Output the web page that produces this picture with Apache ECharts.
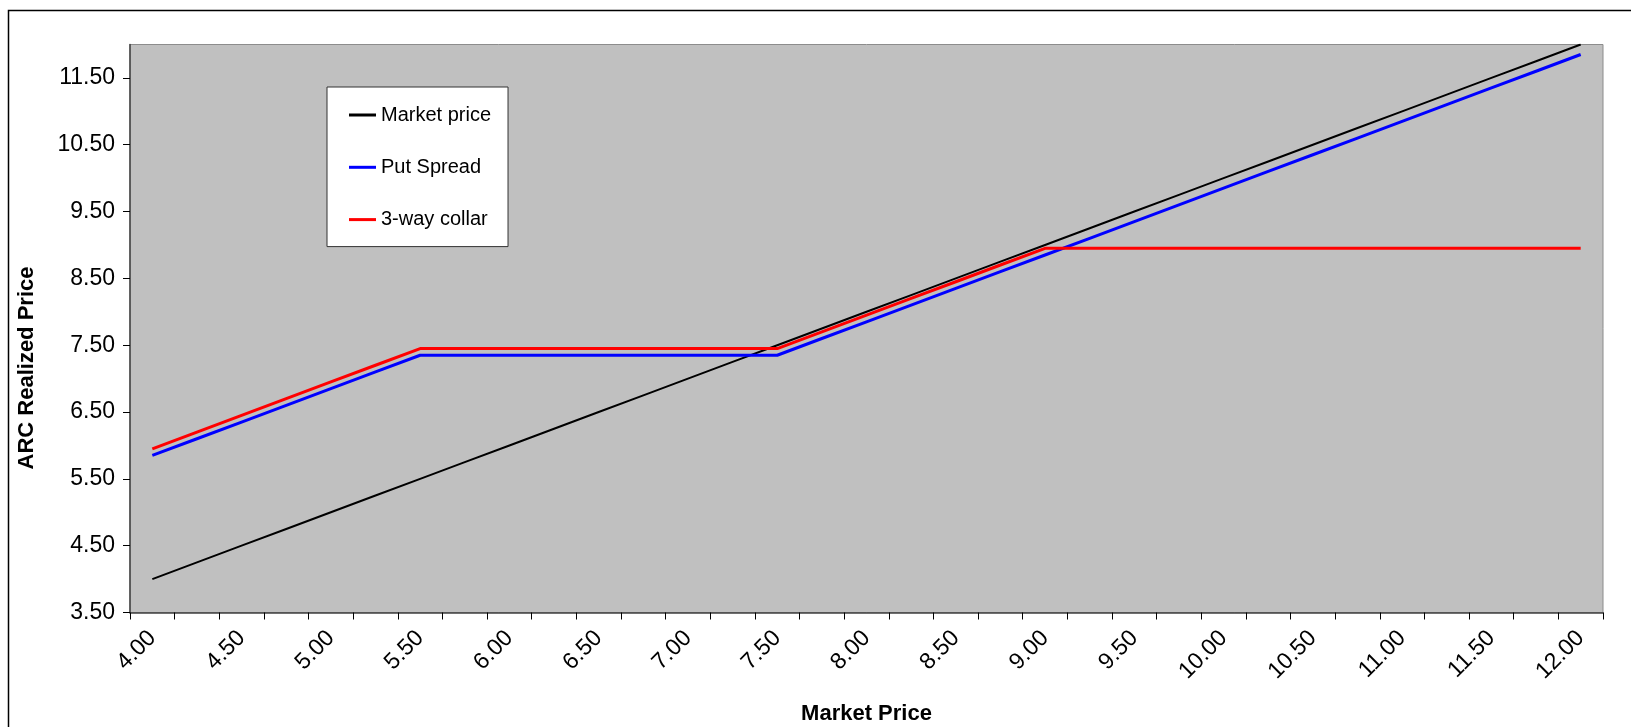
<!DOCTYPE html>
<html>
<head>
<meta charset="utf-8">
<title>ARC Realized Price</title>
<script src="https://cdn.jsdelivr.net/npm/echarts@6/dist/echarts.min.js"></script>
<style>
  html, body { margin: 0; padding: 0; background: #ffffff; }
  #chart { width: 1631px; height: 727px; }
</style>
</head>
<body>
<div id="chart"></div>
<script>
// Market price grid, in 0.25 steps
const categories = [
  '4.00','4.25','4.50','4.75','5.00','5.25','5.50','5.75','6.00','6.25','6.50',
  '6.75','7.00','7.25','7.50','7.75','8.00','8.25','8.50','8.75','9.00','9.25',
  '9.50','9.75','10.00','10.25','10.50','10.75','11.00','11.25','11.50','11.75','12.00'
];

// Unhedged: realized price equals the market price
const marketPrice = [
  4.00, 4.25, 4.50, 4.75, 5.00, 5.25, 5.50, 5.75, 6.00, 6.25, 6.50,
  6.75, 7.00, 7.25, 7.50, 7.75, 8.00, 8.25, 8.50, 8.75, 9.00, 9.25,
  9.50, 9.75, 10.00, 10.25, 10.50, 10.75, 11.00, 11.25, 11.50, 11.75, 12.00
];

// Put spread: floor at 7.35 between 5.50 and 7.50, sub-floor below 5.50
const putSpread = [
  5.85, 6.10, 6.35, 6.60, 6.85, 7.10, 7.35, 7.35, 7.35, 7.35, 7.35,
  7.35, 7.35, 7.35, 7.35, 7.60, 7.85, 8.10, 8.35, 8.60, 8.85, 9.10,
  9.35, 9.60, 9.85, 10.10, 10.35, 10.60, 10.85, 11.10, 11.35, 11.60, 11.85
];

// 3-way collar: floor at 7.45, capped at 8.95 from 9.00 upward
const threeWayCollar = [
  5.95, 6.20, 6.45, 6.70, 6.95, 7.20, 7.45, 7.45, 7.45, 7.45, 7.45,
  7.45, 7.45, 7.45, 7.45, 7.70, 7.95, 8.20, 8.45, 8.70, 8.95, 8.95,
  8.95, 8.95, 8.95, 8.95, 8.95, 8.95, 8.95, 8.95, 8.95, 8.95, 8.95
];

// Value-axis tick labels
const yTicks = [3.5, 4.5, 5.5, 6.5, 7.5, 8.5, 9.5, 10.5, 11.5];

const FONT = "'Liberation Sans', Arial, sans-serif";

const chart = echarts.init(document.getElementById('chart'), null, { renderer: 'canvas' });

chart.setOption({
  animation: false,
  backgroundColor: '#ffffff',
  textStyle: { fontFamily: FONT },
  graphic: [
    {
      // outer chart frame
      type: 'rect',
      silent: true,
      shape: { x: 8.5, y: 10.5, width: 1800, height: 900 },
      style: { fill: 'none', stroke: '#000000', lineWidth: 1.5 }
    },
    {
      // value-axis title
      type: 'text',
      silent: true,
      x: 27,
      y: 368,
      rotation: Math.PI / 2,
      style: {
        text: 'ARC Realized Price',
        fill: '#000000',
        font: "bold 22px 'Liberation Sans', Arial, sans-serif",
        align: 'center',
        verticalAlign: 'middle'
      }
    }
  ],
  grid: {
    left: 130,
    right: 28,
    top: 44.5,
    bottom: 114.5,
    outerBoundsMode: 'none',
    containLabel: false,
    show: true,
    backgroundColor: '#c0c0c0',
    borderColor: '#8c8c8c',
    borderWidth: 1
  },
  legend: {
    orient: 'vertical',
    left: 327,
    top: 87,
    padding: [18, 17, 17, 22],
    itemWidth: 27,
    itemHeight: 3,
    itemGap: 32.3,
    backgroundColor: '#ffffff',
    borderColor: '#333333',
    borderWidth: 1,
    borderRadius: 0,
    selectedMode: false,
    textStyle: { fontFamily: FONT, fontSize: 20, color: '#000000' },
    data: [
      { name: 'Market price', icon: 'rect' },
      { name: 'Put Spread', icon: 'rect' },
      { name: '3-way collar', icon: 'rect' }
    ]
  },
  xAxis: {
    type: 'category',
    data: categories,
    boundaryGap: true,
    name: 'Market Price',
    nameLocation: 'middle',
    nameGap: 90,
    nameTextStyle: { fontFamily: FONT, fontSize: 22, fontWeight: 'bold', color: '#000000' },
    axisLine: { show: true, lineStyle: { color: '#404040', width: 1.5 } },
    axisTick: { show: true, interval: 0, length: 7, lineStyle: { color: '#000000', width: 1 } },
    axisLabel: {
      interval: 1,
      rotate: 45,
      margin: 22,
      fontFamily: FONT,
      fontSize: 23,
      color: '#000000'
    },
    splitLine: { show: false }
  },
  yAxis: {
    type: 'value',
    min: 3.5,
    max: 12,
    axisLine: { show: true, lineStyle: { color: '#404040', width: 1.5 } },
    axisTick: { show: true, length: 7, customValues: yTicks, lineStyle: { color: '#000000', width: 1 } },
    axisLabel: {
      customValues: yTicks,
      margin: 15,
      fontFamily: FONT,
      fontSize: 23,
      color: '#000000',
      formatter: function (v) { return v.toFixed(2); }
    },
    splitLine: { show: false }
  },
  series: [
    {
      name: 'Market price',
      type: 'line',
      data: marketPrice,
      symbol: 'none',
      lineStyle: { color: '#000000', width: 2 },
      itemStyle: { color: '#000000' }
    },
    {
      name: 'Put Spread',
      type: 'line',
      data: putSpread,
      symbol: 'none',
      lineStyle: { color: '#0000ff', width: 3 },
      itemStyle: { color: '#0000ff' }
    },
    {
      name: '3-way collar',
      type: 'line',
      data: threeWayCollar,
      symbol: 'none',
      lineStyle: { color: '#ff0000', width: 3 },
      itemStyle: { color: '#ff0000' }
    }
  ]
});
</script>
</body>
</html>
